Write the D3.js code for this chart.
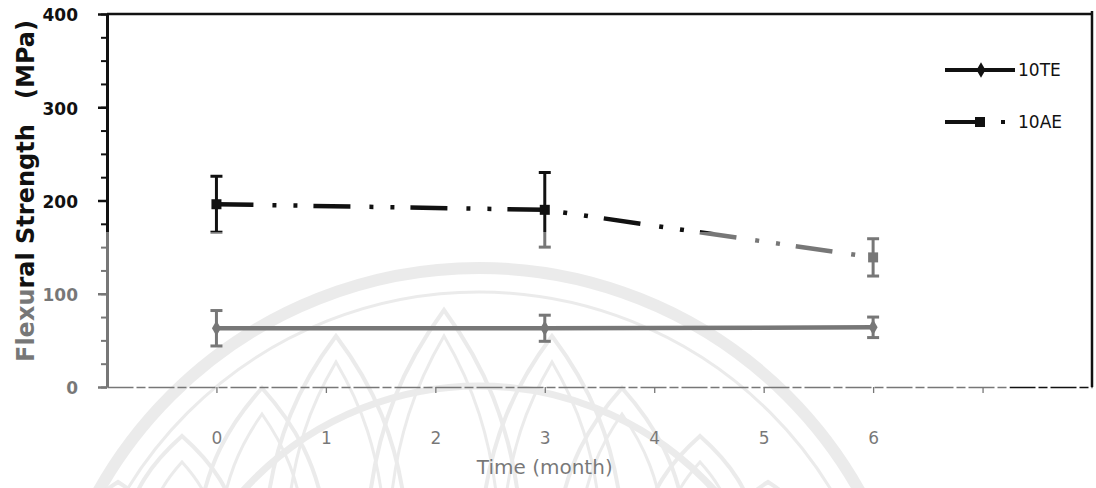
<!DOCTYPE html>
<html>
<head>
<meta charset="utf-8">
<script src="https://cdn.jsdelivr.net/npm/d3@7"></script>
<style>
  html, body { margin: 0; padding: 0; background: #fff; }
  svg { display: block; font-family: "DejaVu Sans", Verdana, sans-serif; }
</style>
</head>
<body>
<svg id="chart" width="1096" height="488"></svg>
<script>
// Flexural strength over storage time, two composite groups (mean ± SD)
const months = [0, 3, 6];
const te10 = [63, 63, 64];
const te10Err = [19, 14, 11];
const ae10 = [196, 190, 139];
const ae10Err = [30, 40, 20];
const seriesNames = ["10TE", "10AE"];
const xTickValues = [0, 1, 2, 3, 4, 5, 6, 7];
const xTickLabels = [0, 1, 2, 3, 4, 5, 6];
const yTickValues = [0, 100, 200, 300, 400];
const yMinorStep = 25;

const svg = d3.select("#chart");
const W = 1096, H = 488;

const x = d3.scaleLinear().domain([-1, 8]).range([107, 1092]);
const y = d3.scaleLinear().domain([0, 400]).range([387, 14]);

const ink = "#111";

// ---- faint emblem behind the plot ----
const wm = svg.append("g").attr("fill", "none").attr("stroke", "#dcdcdc");
const ecx = 479, ecy = 704;
wm.append("circle").attr("cx", ecx).attr("cy", ecy).attr("r", 436).attr("stroke-width", 12);
wm.append("circle").attr("cx", ecx).attr("cy", ecy).attr("r", 412).attr("stroke-width", 3);
wm.append("circle").attr("cx", ecx).attr("cy", ecy).attr("r", 318).attr("stroke-width", 7);
const petals = [
  [444, 310, 78], [336, 336, 72], [552, 336, 72],
  [262, 388, 66], [622, 388, 66], [182, 436, 60], [700, 436, 60],
  [118, 482, 52], [768, 482, 52]
];
function petal(tx, ty, w, base) {
  const h = base - ty;
  return `M${tx - w},${base} C${tx - w},${ty + h * 0.45} ${tx - w * 0.35},${ty + h * 0.15} ${tx},${ty}` +
         ` C${tx + w * 0.35},${ty + h * 0.15} ${tx + w},${ty + h * 0.45} ${tx + w},${base}`;
}
petals.forEach(([tx, ty, w]) => {
  wm.append("path").attr("d", petal(tx, ty, w, 560)).attr("stroke-width", 4);
  wm.append("path").attr("d", petal(tx, ty + 26, w - 22, 560)).attr("stroke-width", 3);
});

// ---- frame ----
svg.append("line")
  .attr("x1", x(-1)).attr("x2", x(8)).attr("y1", y(400)).attr("y2", y(400))
  .attr("stroke", ink).attr("stroke-width", 2.5);
svg.append("line")
  .attr("x1", x(8)).attr("x2", x(8)).attr("y1", y(400) - 3).attr("y2", y(0))
  .attr("stroke", ink).attr("stroke-width", 2.5);

// ---- x axis ----
const xAxis = svg.append("g").attr("transform", `translate(0,${y(0)})`)
  .call(d3.axisBottom(x).tickValues(xTickValues).tickSize(6).tickSizeOuter(0)
    .tickFormat(d => xTickLabels.includes(d) ? String(d) : ""));
xAxis.select(".domain").attr("stroke", ink).attr("stroke-width", 1.5)
  .attr("stroke-dasharray", "26 3 9 3");
xAxis.selectAll(".tick line").attr("stroke", ink).attr("stroke-width", 1.3);
xAxis.selectAll(".tick text").attr("y", 51).attr("dy", "0.35em")
  .attr("fill", ink).attr("font-size", 17).attr("font-family", "DejaVu Sans");

svg.append("text").attr("x", x(3)).attr("y", 474).attr("text-anchor", "middle")
  .attr("font-size", 20).attr("fill", ink).text("Time (month)");

// ---- y axis: minor then major ticks ----
const yMinor = svg.append("g").attr("transform", `translate(${x(-1)},0)`)
  .call(d3.axisLeft(y).tickValues(d3.range(0, 401, yMinorStep)).tickSize(6).tickSizeOuter(0).tickFormat(""));
yMinor.select(".domain").remove();
yMinor.selectAll(".tick line").attr("stroke", ink).attr("stroke-width", 2);

const yAxis = svg.append("g").attr("transform", `translate(${x(-1)},0)`)
  .call(d3.axisLeft(y).tickValues(yTickValues).tickSize(9).tickSizeOuter(0).tickPadding(20));
yAxis.select(".domain").attr("stroke", ink).attr("stroke-width", 3);
yAxis.selectAll(".tick line").attr("stroke", ink).attr("stroke-width", 2.5);
yAxis.selectAll(".tick text").attr("fill", ink).attr("font-size", 17)
  .attr("font-weight", "bold").attr("font-family", "DejaVu Sans").attr("dy", "0.4em");

// y title in two parts: name and unit, separated by a wide gap
const yTitle = svg.append("g").attr("font-size", 24).attr("font-weight", "bold").attr("fill", ink);
yTitle.append("text").attr("transform", "translate(34,362) rotate(-90)")
  .attr("text-anchor", "start").text("Flexural Strength");
yTitle.append("text").attr("transform", "translate(34,20) rotate(-90)")
  .attr("text-anchor", "end").text("(MPa)");

// ---- series ----
const line = d3.line().x(d => x(d[0])).y(d => y(d[1]));
const aeDash = "37 19 4 17 4 16";

function errorBars(vals, errs, width) {
  const g = svg.append("g").attr("stroke", ink).attr("stroke-width", width);
  months.forEach((m, i) => {
    const cx = x(m), lo = y(vals[i] - errs[i]), hi = y(vals[i] + errs[i]);
    g.append("line").attr("x1", cx).attr("x2", cx).attr("y1", lo).attr("y2", hi);
    g.append("line").attr("x1", cx - 6).attr("x2", cx + 6).attr("y1", lo).attr("y2", lo);
    g.append("line").attr("x1", cx - 6).attr("x2", cx + 6).attr("y1", hi).attr("y2", hi);
  });
}

// 10TE: solid line with diamonds
svg.append("path").datum(months.map((m, i) => [m, te10[i]]))
  .attr("d", line).attr("fill", "none").attr("stroke", ink).attr("stroke-width", 4.5);
errorBars(te10, te10Err, 3);
svg.append("g").selectAll("path").data(months).join("path")
  .attr("transform", (m, i) => `translate(${x(m)},${y(te10[i])})`)
  .attr("d", d3.symbol(d3.symbolDiamond, 70)).attr("fill", ink);

// 10AE: dash-dot-dot line with squares
svg.append("path").datum(months.map((m, i) => [m, ae10[i]]))
  .attr("d", line).attr("fill", "none").attr("stroke", ink).attr("stroke-width", 4.5)
  .attr("stroke-dasharray", aeDash);
errorBars(ae10, ae10Err, 3);
svg.append("g").selectAll("rect").data(months).join("rect")
  .attr("x", m => x(m) - 5).attr("y", (m, i) => y(ae10[i]) - 5)
  .attr("width", 10).attr("height", 10).attr("fill", ink);

// ---- legend ----
const lg = svg.append("g");
lg.append("line").attr("x1", 945).attr("x2", 1015).attr("y1", 70).attr("y2", 70)
  .attr("stroke", ink).attr("stroke-width", 4);
lg.append("path").attr("transform", "translate(981,70)")
  .attr("d", d3.symbol(d3.symbolDiamond, 70)).attr("fill", ink);
lg.append("line").attr("x1", 945).attr("x2", 1008).attr("y1", 122).attr("y2", 122)
  .attr("stroke", ink).attr("stroke-width", 4).attr("stroke-dasharray", aeDash);
lg.append("rect").attr("x", 975).attr("y", 117).attr("width", 10).attr("height", 10).attr("fill", ink);
lg.selectAll("text").data(seriesNames).join("text")
  .attr("x", 1018).attr("y", (d, i) => 76 + i * 52)
  .attr("font-size", 17).attr("fill", ink).text(d => d);

// ---- faded lower band of the page ----
svg.append("path")
  .attr("d", `M0,287 L40,287 L40,232 L1010,232 L1010,${H} L0,${H} Z`)
  .attr("fill", "#fff").attr("fill-opacity", 0.43);
</script>
</body>
</html>
